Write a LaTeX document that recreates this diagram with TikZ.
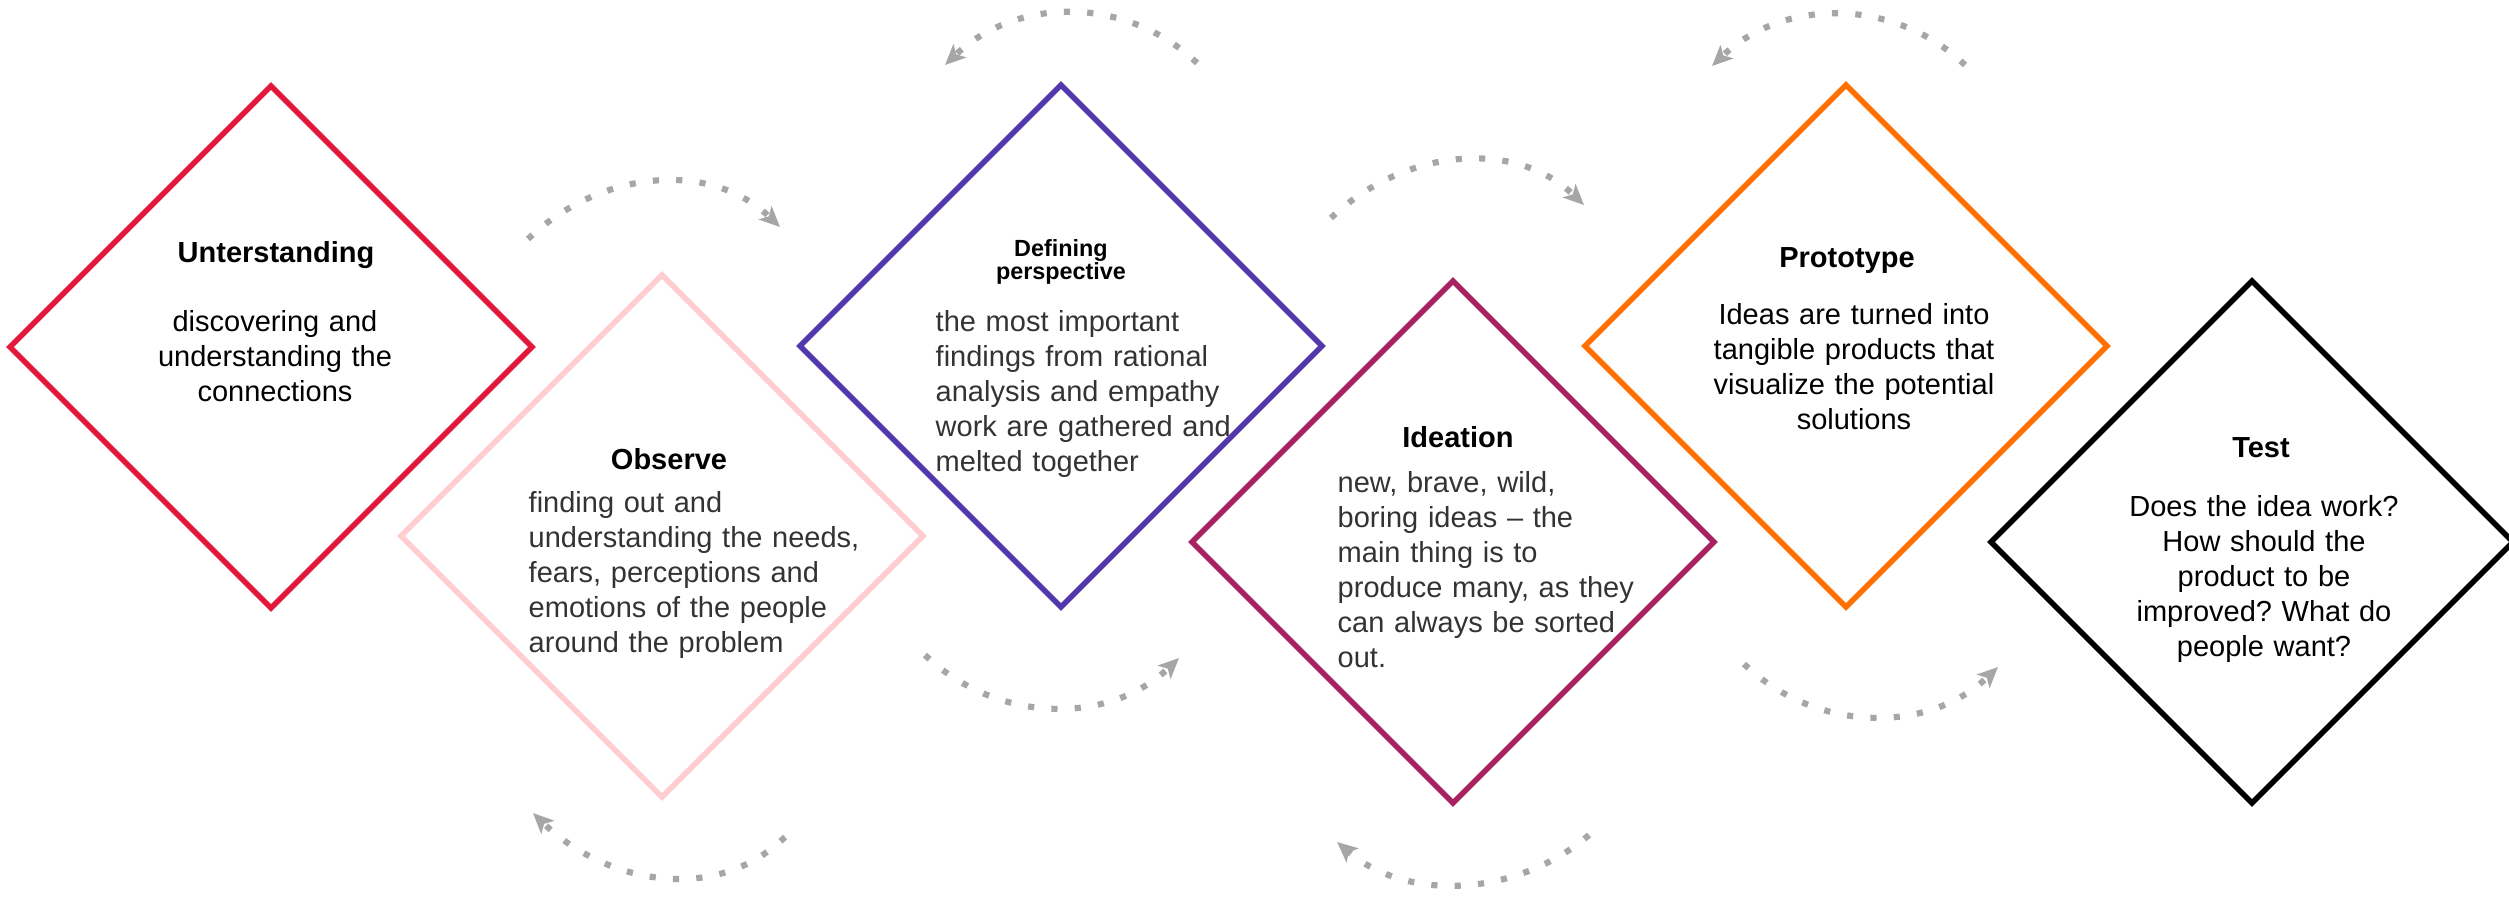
\documentclass[tikz,border=0pt]{standalone}
\usepackage{fontspec}
\setmainfont{Liberation Sans}
\usetikzlibrary{shapes.geometric,arrows.meta}
\definecolor{cU}{RGB}{226,25,58}
\definecolor{cO}{RGB}{255,204,208}
\definecolor{cD}{RGB}{82,56,170}
\definecolor{cI}{RGB}{168,34,98}
\definecolor{cP}{RGB}{255,112,0}
\definecolor{cArr}{RGB}{166,166,166}
\definecolor{cTxt}{RGB}{51,51,51}
\newcommand\dtbody{\fontsize{8.25pt}{9.96pt}\selectfont}
\newcommand\dttitle{\fontsize{8.25pt}{9.96pt}\selectfont\bfseries}
\newcommand\dtsmall{\fontsize{6.65pt}{6.55pt}\selectfont\bfseries}
\frenchspacing
\begin{document}
\begin{tikzpicture}[x=0.01cm,y=-0.01cm,
  dia/.style={diamond,aspect=1,minimum width=5.24cm,minimum height=5.24cm,inner sep=0pt,line width=1.55pt},
  ttl/.style={inner sep=0pt,anchor=base,font=\dttitle,text=black},
  bdyc/.style={inner sep=0pt,font=\dtbody,text width=4cm,align=center,anchor=base,text=black},
  bdyl/.style={inner sep=0pt,font=\dtbody,text width=3.7cm,align=left,anchor=base west,text=cTxt},
  loopy/.style={draw=cArr,line width=1.75pt,dash pattern=on 1.75pt off 4.9pt,
    -{Stealth[length=5.8pt,width=5.2pt,inset=1.4pt]}}]
\useasboundingbox (0,0) rectangle (2509,896);

% diamonds
\node[dia,draw=cU] (u) at (271,347) {};
\node[dia,draw=cO] (o) at (662,536) {};
\node[dia,draw=cD] (d) at (1061,346) {};
\node[dia,draw=cI] (i) at (1453,542) {};
\node[dia,draw=cP] (p) at (1846,346) {};
\node[dia,draw=black] (t) at (2252,542) {};

% texts
\node[ttl] (ut) at (276,262) {Unterstanding};
\node[bdyc] (ub) at (275,331) {discovering and\\understanding the\\connections};

\node[ttl] (ot) at (669,469) {Observe};
\node[bdyl] (ob) at (528,512) {finding out and\\understanding the needs,\\fears, perceptions and\\emotions of the people\\around the problem};

\node[inner sep=0pt,anchor=base,font=\dtsmall,text width=3cm,align=center] (dt) at (1061,256) {Defining\\perspective};
\node[bdyl] (db) at (935,331) {the most important\\findings from rational\\analysis and empathy\\work are gathered and\\melted together};

\node[ttl] (it) at (1458,447) {Ideation};
\node[bdyl] (ib) at (1337,492) {new, brave, wild,\\boring ideas – the\\main thing is to\\produce many, as they\\can always be sorted\\out.};

\node[ttl] (pt) at (1847,267) {Prototype};
\node[bdyc] (pb) at (1854,324) {Ideas are turned into\\tangible products that\\visualize the potential\\solutions};

\node[ttl] (tt) at (2261,457) {Test};
\node[bdyc] (tb) at (2264,516) {Does the idea work?\\How should the\\product to be\\improved? What do\\people want?};

% arrow end points
\coordinate (a1s) at (528,239);  \coordinate (a1e) at (780,227);
\coordinate (a2s) at (1197,63);  \coordinate (a2e) at (945,65);
\coordinate (a3s) at (1331,218); \coordinate (a3e) at (1584,205);
\coordinate (a4s) at (1965,65);  \coordinate (a4e) at (1712,66);
\coordinate (a5s) at (925,655);  \coordinate (a5e) at (1179,658);
\coordinate (a6s) at (785,837);  \coordinate (a6e) at (533,813);
\coordinate (a7s) at (1744,664); \coordinate (a7e) at (1998,667);
\coordinate (a8s) at (1589,835); \coordinate (a8e) at (1337,842);

\draw[loopy] (a1s) .. controls (599,171) and (709,159) .. (a1e);
\draw[loopy] (a2s) .. controls (1126,-5) and (1016,-3) .. (a2e);
\draw[loopy] (a3s) .. controls (1402,150) and (1513,137) .. (a3e);
\draw[loopy] (a4s) .. controls (1894,-3) and (1783,-2) .. (a4e);
\draw[loopy] (a5s) .. controls (996,723) and (1108,726) .. (a5e);
\draw[loopy] (a6s) .. controls (714,906) and (604,882) .. (a6e);
\draw[loopy] (a7s) .. controls (1815,732) and (1927,735) .. (a7e);
\draw[loopy] (a8s) .. controls (1518,896) and (1408,903) .. (a8e);
\end{tikzpicture}
\end{document}
